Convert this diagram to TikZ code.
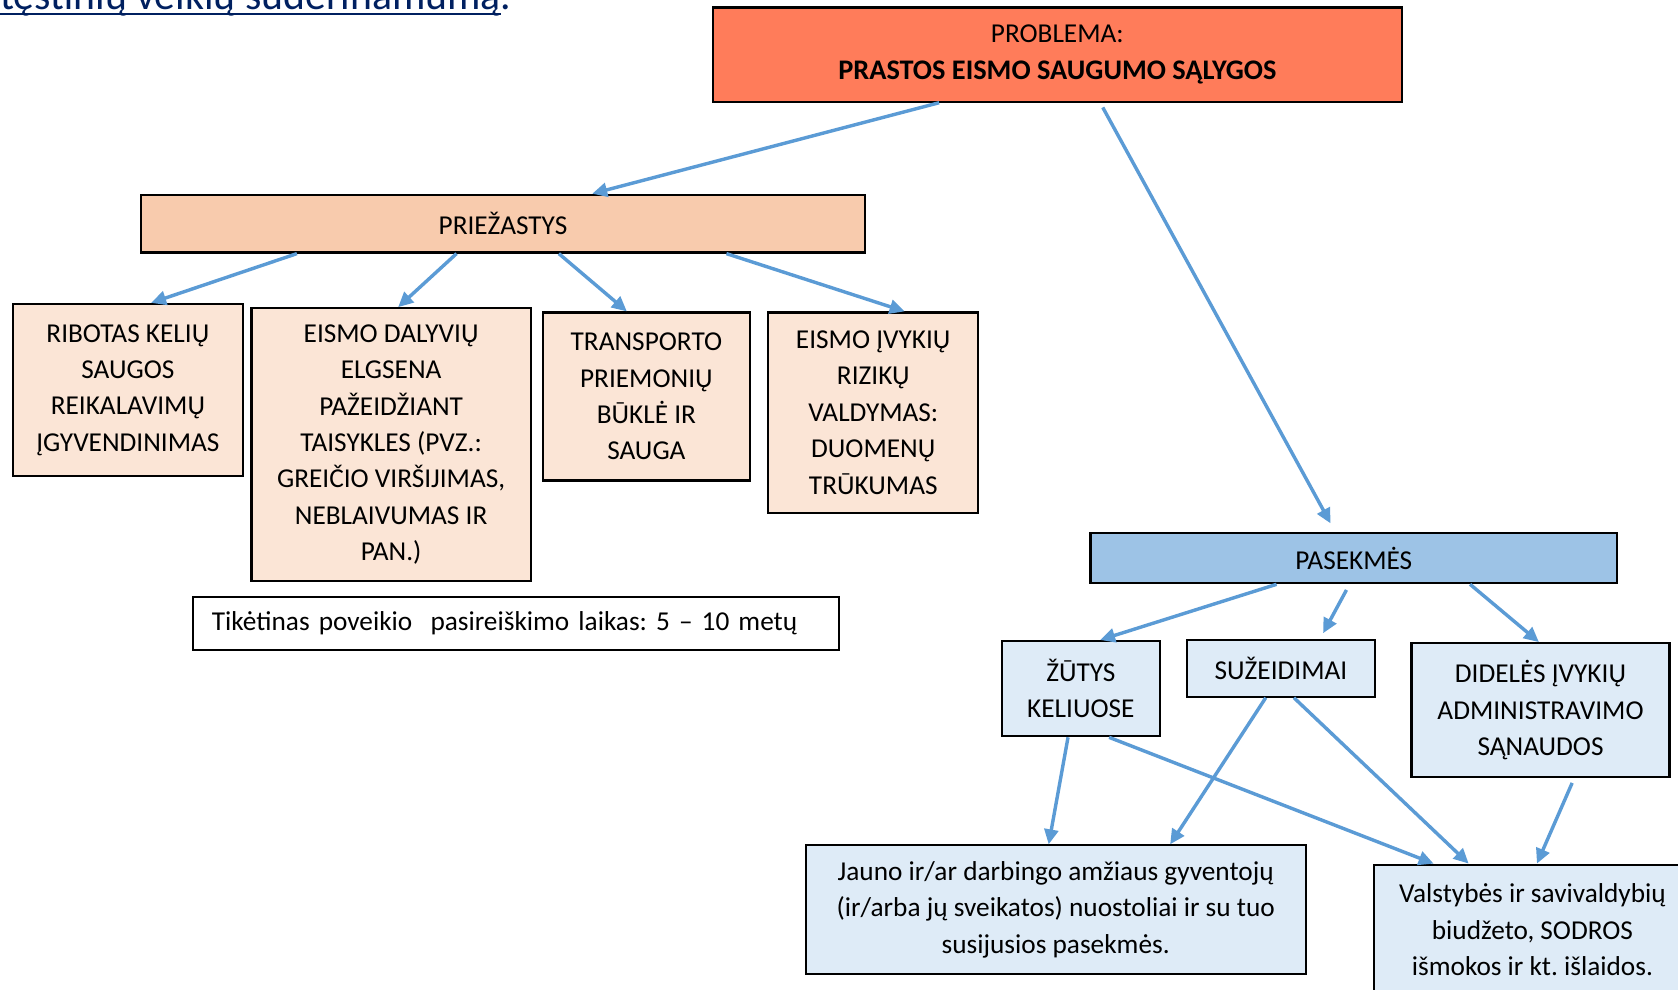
\documentclass[tikz,border=0pt]{standalone}
\usepackage{fontspec}
\setmainfont{Carlito}
\usetikzlibrary{calc,arrows.meta}
\definecolor{probred}{RGB}{255,124,90}
\definecolor{causepeach}{RGB}{248,203,173}
\definecolor{causelight}{RGB}{251,229,214}
\definecolor{effblue}{RGB}{157,195,230}
\definecolor{efflight}{RGB}{222,235,247}
\definecolor{arrblue}{RGB}{91,155,213}
\definecolor{linknavy}{RGB}{0,32,96}
\frenchspacing
\begin{document}
\begin{tikzpicture}[x=1pt,y=-1pt,
    box/.style={draw=black,line width=2pt,align=center,inner sep=0pt,
      font=\fontsize{25.5}{34}\selectfont},
    conn/.style={draw=arrblue,line width=3.2pt,-{Triangle[length=14pt,width=13pt]}}]
  \useasboundingbox (0,0) rectangle (1568,925);
  % text left over from the page above
  \node[anchor=base west,inner sep=0pt,text=linknavy,font=\fontsize{39}{44}\selectfont]
    (toptxt) at (0,9.3) {tęstinių veiklų suderinamumą\rlap{.}};
  \draw[linknavy,line width=1.3pt] ([yshift=-3.7pt]toptxt.base west)--([yshift=-3.7pt]toptxt.base east);
  % problem and causes
  \node[box,fill=probred,minimum width=644pt,minimum height=88pt] (prob) at (988,51)
    {PROBLEMA:\\\fontsize{26.5}{34}\selectfont\textbf{PRASTOS EISMO SAUGUMO SĄLYGOS}};
  \node[box,fill=causepeach,minimum width=676pt,minimum height=54pt] (priez) at (470,209) {PRIEŽASTYS};
  \node[box,fill=causelight,minimum width=215pt,minimum height=161pt] (ribot) at (119.5,364.5)
    {RIBOTAS KELIŲ\\SAUGOS\\REIKALAVIMŲ\\ĮGYVENDINIMAS};
  \node[box,fill=causelight,minimum width=261pt,minimum height=255pt] (dalyv) at (365.5,415.5)
    {EISMO DALYVIŲ\\ELGSENA\\PAŽEIDŽIANT\\TAISYKLES (PVZ.:\\GREIČIO VIRŠIJIMAS,\\NEBLAIVUMAS IR\\PAN.)};
  \node[box,fill=causelight,minimum width=194pt,minimum height=157pt] (transp) at (604,370.5)
    {TRANSPORTO\\PRIEMONIŲ\\BŪKLĖ IR\\SAUGA};
  \node[box,fill=causelight,minimum width=196pt,minimum height=187pt] (rizik) at (816,385.5)
    {EISMO ĮVYKIŲ\\RIZIKŲ\\VALDYMAS:\\DUOMENŲ\\TRŪKUMAS};
  \node[box,fill=white,text width=568pt,align=left,inner xsep=18pt,minimum height=49pt] (tiket) at (482,582.5)
    {Tikėtinas poveikio~ pasireiškimo laikas: 5 – 10 metų};
  % consequences
  \node[box,fill=effblue,minimum width=492pt,minimum height=47pt] (pasek) at (1265,521.5) {PASEKMĖS};
  \node[box,fill=efflight,minimum width=148pt,minimum height=89pt] (zut) at (1010,643.5) {ŽŪTYS\\KELIUOSE};
  \node[box,fill=efflight,minimum width=176pt,minimum height=53pt] (suz) at (1197,624.5) {SUŽEIDIMAI};
  \node[box,fill=efflight,minimum width=241pt,minimum height=125pt] (didel) at (1439.5,663.5)
    {DIDELĖS ĮVYKIŲ\\ADMINISTRAVIMO\\SĄNAUDOS};
  \node[box,fill=efflight,minimum width=467pt,minimum height=120pt] (jauno) at (986.5,850)
    {Jauno ir/ar darbingo amžiaus gyventojų\\(ir/arba jų sveikatos) nuostoliai ir su tuo\\susijusios pasekmės.};
  \node[box,fill=efflight,minimum width=296pt,minimum height=122pt] (valst) at (1432,869)
    {Valstybės ir savivaldybių\\biudžeto, SODROS\\išmokos ir kt. išlaidos.};
  % arrows
  \draw[conn] ($(prob.south west)!.329!(prob.south east)$)--($(priez.north west)!.623!(priez.north east)$);
  \draw[conn,shorten <=5pt,shorten >=9pt] ($(prob.south west)!.562!(prob.south east)$)--($(pasek.north west)!.465!(pasek.north east)$);
  \draw[conn] ($(priez.south west)!.216!(priez.south east)$)--($(ribot.north west)!.6!(ribot.north east)$);
  \draw[conn] ($(priez.south west)!.436!(priez.south east)$)--($(dalyv.north west)!.525!(dalyv.north east)$);
  \draw[conn] ($(priez.south west)!.577!(priez.south east)$)--($(transp.north west)!.407!(transp.north east)$);
  \draw[conn] ($(priez.south west)!.808!(priez.south east)$)--($(rizik.north west)!.648!(rizik.north east)$);
  \draw[conn] ($(pasek.south west)!.354!(pasek.south east)$)--($(zut.north west)!.62!(zut.north east)$);
  \draw[conn,shorten <=6pt,shorten >=6pt] ($(pasek.south west)!.492!(pasek.south east)$)--($(suz.north west)!.705!(suz.north east)$);
  \draw[conn] ($(pasek.south west)!.72!(pasek.south east)$)--($(didel.north west)!.494!(didel.north east)$);
  \draw[conn] ($(zut.south west)!.42!(zut.south east)$)--($(jauno.north west)!.486!(jauno.north east)$);
  \draw[conn] ($(suz.south west)!.42!(suz.south east)$)--($(jauno.north west)!.728!(jauno.north east)$);
  \draw[conn] ($(zut.south west)!.676!(zut.south east)$)--($(valst.north west)!.19!(valst.north east)$);
  \draw[conn] ($(suz.south west)!.568!(suz.south east)$)--($(valst.north west)!.30!(valst.north east)$);
  \draw[conn,shorten <=5pt] ($(didel.south west)!.63!(didel.south east)$)--($(valst.north west)!.514!(valst.north east)$);
\end{tikzpicture}
\end{document}
